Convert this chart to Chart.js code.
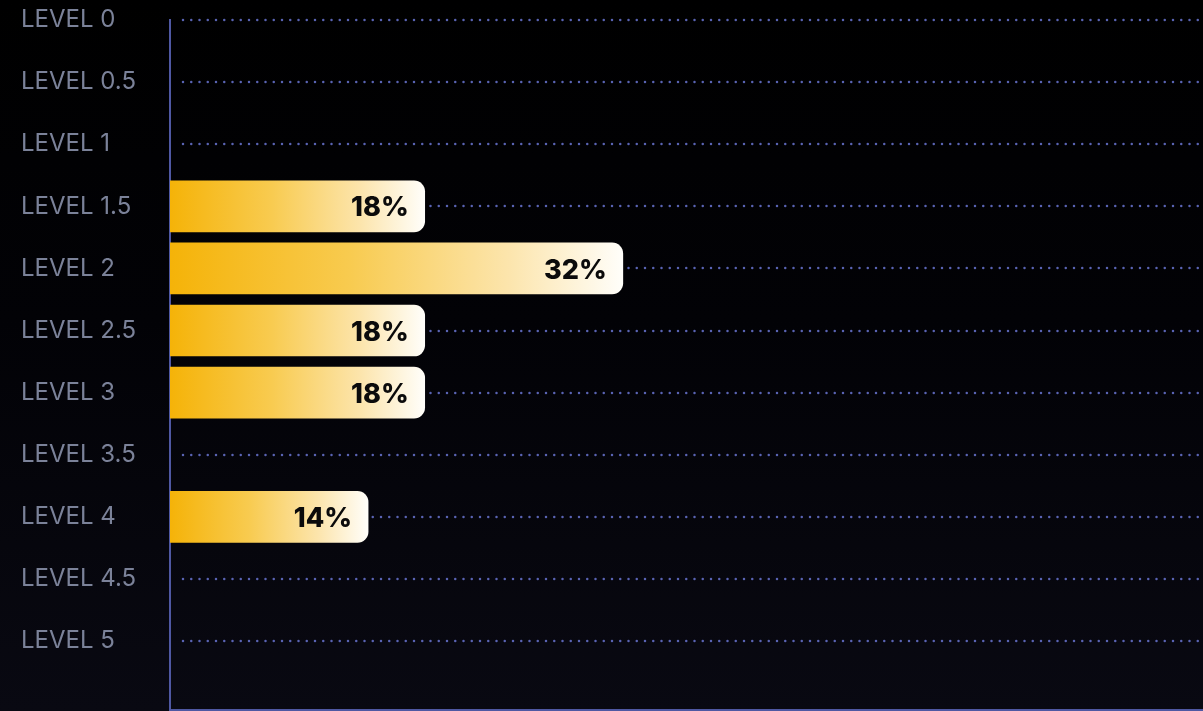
<!DOCTYPE html>
<html>
<head>
<meta charset="utf-8">
<title>Level distribution</title>
<script src="https://cdn.jsdelivr.net/npm/chart.js@4/dist/chart.umd.min.js"></script>
<style>
  html, body {
    margin: 0;
    padding: 0;
    width: 1203px;
    height: 711px;
    overflow: hidden;
    background: linear-gradient(180deg, #000000 0%, #020206 45%, #090912 100%);
  }
  #wrap { position: relative; width: 1203px; height: 711px; }
</style>
</head>
<body>
<div id="wrap"><canvas id="level-chart" width="1203" height="711"></canvas></div>
<script>
// Share of people per level
const levelLabels = ['LEVEL 0', 'LEVEL 0.5', 'LEVEL 1', 'LEVEL 1.5', 'LEVEL 2', 'LEVEL 2.5',
                     'LEVEL 3', 'LEVEL 3.5', 'LEVEL 4', 'LEVEL 4.5', 'LEVEL 5'];
const levelShares = [0, 0, 0, 18, 32, 18, 18, 0, 14, 0, 0];

const AXIS_COLOR = '#4f58a3';
const DOT_COLOR = '#5a64b4';

// Dotted guide lines, one per level, starting a little right of the axis
const dottedGrid = {
    id: 'dottedGrid',
    beforeDatasetsDraw(chart) {
        const { ctx, chartArea, scales } = chart;
        ctx.save();
        ctx.fillStyle = DOT_COLOR;
        levelLabels.forEach((_, i) => {
            const y = Math.round(scales.y.getPixelForValue(i));
            for (let x = chartArea.left + 13; x < chartArea.right; x += 8.25) {
                ctx.beginPath();
                ctx.arc(x, y, 1.25, 0, Math.PI * 2);
                ctx.fill();
            }
        });
        ctx.restore();
    }
};

// Percent labels inside the right end of each bar
const barValueLabels = {
    id: 'barValueLabels',
    afterDatasetsDraw(chart) {
        const { ctx } = chart;
        const meta = chart.getDatasetMeta(0);
        ctx.save();
        ctx.font = '800 27px Inter, "Noto Sans", sans-serif';
        ctx.fillStyle = '#0b0b0b';
        ctx.textAlign = 'right';
        ctx.textBaseline = 'middle';
        meta.data.forEach((bar, i) => {
            const v = levelShares[i];
            if (!v) return;
            ctx.fillText(v + '%', bar.x - 16, bar.y + 2);
        });
        ctx.restore();
    }
};

function barGradient(context) {
    const chart = context.chart;
    const { ctx, chartArea, scales } = chart;
    if (!chartArea || context.type !== 'data') return '#f5b50a';
    const v = levelShares[context.dataIndex];
    if (!v) return 'rgba(0,0,0,0)';
    const x0 = scales.x.getPixelForValue(0);
    const x1 = scales.x.getPixelForValue(v);
    const g = ctx.createLinearGradient(x0, 0, x1, 0);
    g.addColorStop(0, '#f5b308');
    g.addColorStop(0.4, '#f8cb50');
    g.addColorStop(0.75, '#fce5ad');
    g.addColorStop(1, '#fffefa');
    return g;
}

const ctx = document.getElementById('level-chart');

new Chart(ctx, {
    type: 'bar',
    data: {
        datasets: [{
            data: levelShares.map((v, i) => ({ x: v, y: i })),
            backgroundColor: barGradient,
            borderWidth: 0,
            borderRadius: 11,
            borderSkipped: 'start',
            barThickness: 51
        }]
    },
    options: {
        indexAxis: 'y',
        responsive: false,
        animation: false,
        events: [],
        layout: {
            padding: { left: 21, top: 20, right: 0, bottom: 0 }
        },
        scales: {
            x: {
                type: 'linear',
                min: 0,
                max: 73,
                grid: { display: false, drawTicks: false },
                ticks: { display: false },
                border: { display: true, color: AXIS_COLOR, width: 2 },
                afterFit(scale) {
                    scale.height = 1;
                }
            },
            y: {
                type: 'linear',
                reverse: true,
                offset: false,
                min: 0,
                max: 11.11,
                z: 1,
                afterBuildTicks(scale) {
                    scale.ticks = levelLabels.map((_, i) => ({ value: i }));
                },
                afterFit(scale) {
                    scale.width = 149;
                    scale.paddingTop = 0;
                    scale.paddingBottom = 0;
                },
                grid: { display: false, drawTicks: false },
                border: { display: true, color: AXIS_COLOR, width: 2 },
                ticks: {
                    crossAlign: 'far',
                    padding: 0,
                    color: '#7b8299',
                    font: { family: 'Inter, "Noto Sans", sans-serif', size: 24, weight: 400 },
                    callback: value => levelLabels[value] || ''
                }
            }
        },
        plugins: {
            legend: { display: false },
            tooltip: { enabled: false }
        }
    },
    plugins: [dottedGrid, barValueLabels]
});
</script>
</body>
</html>
